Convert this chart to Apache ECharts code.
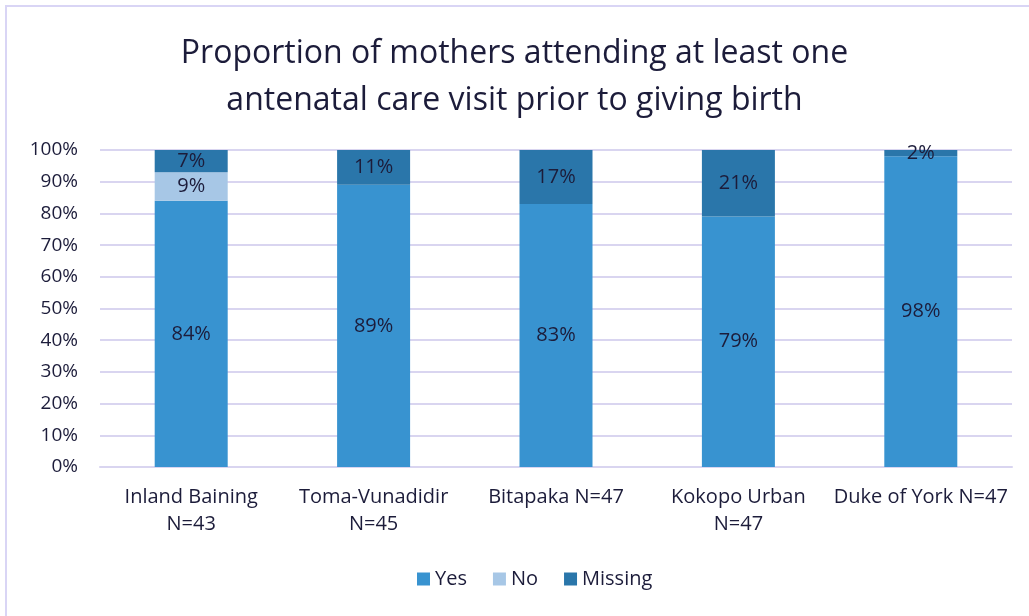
<!DOCTYPE html>
<html><head><meta charset="utf-8">
<script src="https://cdn.jsdelivr.net/npm/echarts@6/dist/echarts.min.js"></script>
<style>
html,body{margin:0;padding:0;background:#fff;}
#frame{position:absolute;left:5px;top:5px;width:1100px;height:700px;border-left:2px solid #d9d5f5;border-top:2px solid #d9d5f5;}
#c{position:absolute;left:0;top:0;width:1029px;height:616px;}
</style></head>
<body>
<div id="frame"></div>
<div id="c"></div>
<script>
const categories = ['Inland Baining\nN=43', 'Toma-Vunadidir\nN=45', 'Bitapaka N=47', 'Kokopo Urban\nN=47', 'Duke of York N=47'];
const yesValues = [84, 89, 83, 79, 98];
const noValues = [9, 0, 0, 0, 0];
const missingValues = [7, 11, 17, 21, 2];
const yTicks = [0,10,20,30,40,50,60,70,80,90,100];

const textColor = '#1c1c3a';
const font = "'Open Sans', 'Noto Sans', sans-serif";
function lbl(){ return {show:true, position:'inside', fontSize:20, fontFamily:font, color:textColor,
  formatter: p => p.value > 0 ? p.value + '%' : ''}; }

const chart = echarts.init(document.getElementById('c'));
chart.setOption({
  animation:false,
  title:{text:'Proportion of mothers attending at least one\nantenatal care visit prior to giving birth', left:'center', top:25,
    textStyle:{fontSize:32, fontWeight:'normal', color:textColor, fontFamily:font, lineHeight:47}},
  legend:{bottom:22, left:412, itemWidth:13, itemHeight:13, itemGap:26, icon:'rect',
    textStyle:{fontSize:20, color:textColor, fontFamily:font}},
  grid:{left:100, right:17, top:150, bottom:149, containLabel:false},
  xAxis:{type:'category', data:categories, axisTick:{show:false},
    axisLine:{lineStyle:{color:'#d9d5f0', width:2}},
    axisLabel:{fontSize:20, color:textColor, fontFamily:font, margin:17, lineHeight:27, interval:0}},
  yAxis:{type:'value', min:0, max:100, interval:10,
    axisLabel:{formatter:'{value}%', fontSize:19, color:textColor, fontFamily:font, margin:22},
    splitLine:{lineStyle:{color:'#d9d5f0', width:2}}},
  series:[
    {name:'Yes', type:'bar', stack:'a', data:yesValues, barWidth:73, itemStyle:{color:'#3893d0'}, label:lbl()},
    {name:'No', type:'bar', stack:'a', data:noValues, itemStyle:{color:'#a7c7e6'}, label:lbl()},
    {name:'Missing', type:'bar', stack:'a', data:missingValues, itemStyle:{color:'#2a76aa'}, label:lbl()}
  ]
});
</script>
</body></html>
